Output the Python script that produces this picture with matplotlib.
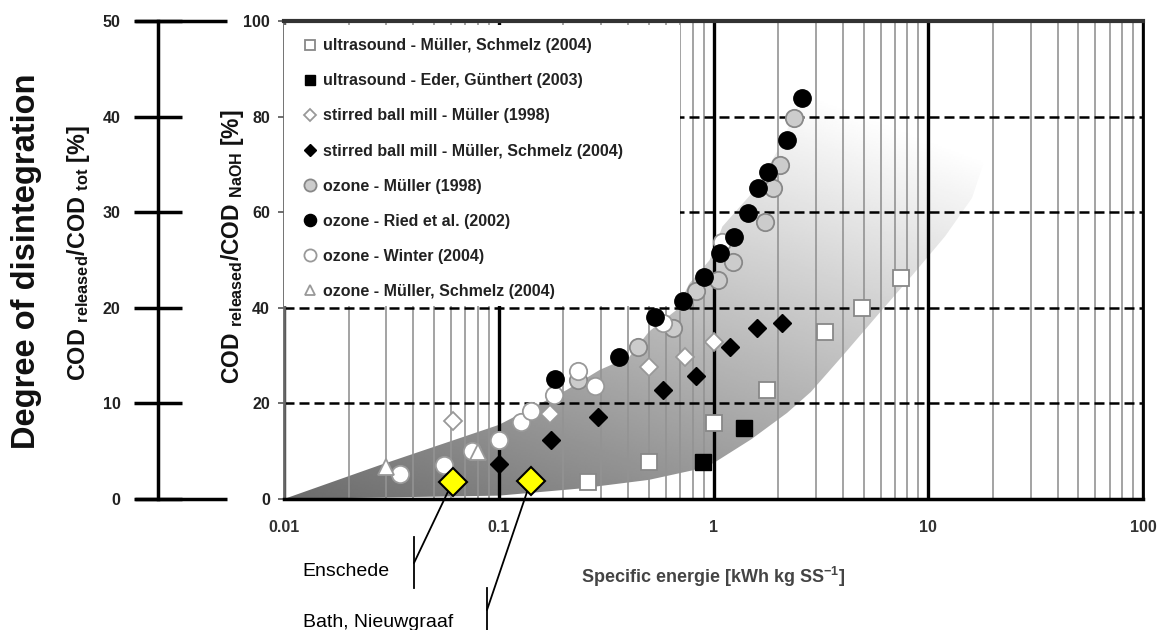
import numpy as np
import matplotlib
matplotlib.use("Agg")
import matplotlib.pyplot as plt
from matplotlib.patches import Polygon, Rectangle
from matplotlib.lines import Line2D
from matplotlib.ticker import FixedLocator, LogLocator, NullFormatter

plt.rcParams['font.family'] = ['Liberation Sans', 'DejaVu Sans']
plt.rcParams['font.weight'] = 'bold'
plt.rcParams['mathtext.fontset'] = 'custom'
plt.rcParams['mathtext.rm'] = 'Liberation Sans:bold'
plt.rcParams['mathtext.it'] = 'Liberation Sans:bold'
plt.rcParams['mathtext.bf'] = 'Liberation Sans:bold'

# specific energy [kWh/kg SS] vs. released COD [% of COD_NaOH]
us_ms_x = [0.26, 0.50, 1.0, 1.77, 3.3, 4.9, 7.5]
us_ms_y = [3.6, 7.7, 16.0, 22.8, 35.0, 40.0, 46.2]
us_eg_x = [0.89, 1.39]
us_eg_y = [7.7, 14.9]
sbm_m_x = [0.061, 0.173, 0.50, 0.74, 1.0]
sbm_m_y = [16.3, 17.8, 27.6, 29.7, 32.8]
sbm_ms_x = [0.10, 0.176, 0.29, 0.58, 0.83, 1.19, 1.60, 2.09]
sbm_ms_y = [7.3, 12.3, 17.2, 22.8, 25.7, 31.8, 35.8, 36.8]
oz_m_x = [0.235, 0.443, 0.645, 0.83, 1.055, 1.23, 1.73, 1.89, 2.03, 2.38]
oz_m_y = [24.9, 31.8, 35.8, 43.5, 45.8, 49.6, 57.9, 65.1, 69.9, 79.7]
oz_r_x = [0.182, 0.362, 0.532, 0.718, 0.90, 1.07, 1.25, 1.44, 1.62, 1.80, 2.19, 2.57]
oz_r_y = [25.1, 29.7, 38.1, 41.4, 46.4, 51.5, 54.8, 59.8, 65.1, 68.4, 75.1, 83.9]
oz_w_x = [0.0346, 0.0555, 0.0749, 0.10, 0.127, 0.142, 0.18, 0.233, 0.28, 0.58, 1.10]
oz_w_y = [5.2, 7.1, 10.0, 12.3, 16.1, 18.5, 21.8, 26.8, 23.6, 36.8, 53.8]
oz_ms_x = [0.030, 0.080]
oz_ms_y = [6.7, 9.8]

# full-scale plants
plant_names = ['Enschede', 'Bath, Nieuwgraaf']
plant_x = [0.061, 0.141]
plant_y = [3.6, 3.8]

# outline of the shaded band (counter-clockwise, starting at the tip)
band_x = [0.01, 0.1, 0.24, 0.5, 0.8, 1.0, 1.5, 2.2, 2.84, 4.0, 6.0, 8.5, 12, 16, 18, 16,
          11, 6, 3.5, 2.7, 2.4, 2.03, 1.58, 1.1, 0.96, 0.77, 0.67, 0.5, 0.405, 0.295,
          0.207, 0.1, 0.028]
band_y = [0, 0.7, 2.2, 4.0, 6.0, 7.5, 12.5, 18, 22.4, 30, 39.2, 47, 55, 63, 70, 77,
          83, 88, 91, 88, 81, 73.6, 65, 57, 50, 45, 39.5, 35, 29.7, 27, 22.8, 15.5, 7.1]

x_ticks = [0.01, 0.1, 1, 10, 100]
x_tick_labels = ['0.01', '0.1', '1', '10', '100']
y_ticks = [0, 20, 40, 60, 80, 100]
y_tot_ticks = [0, 10, 20, 30, 40, 50]

W, H = 1165, 630
fig = plt.figure(figsize=(W / 100, H / 100), dpi=100)


def fpx(x, y):
    # pixel position (from top-left) -> figure fraction
    return x / W, 1 - y / H


x0, y0 = fpx(284, 499)
x1, y1 = fpx(1143, 21)
ax = fig.add_axes([x0, y0, x1 - x0, y1 - y0])
ax.set_xscale('log')
ax.set_xlim(0.01, 100)
ax.set_ylim(0, 100)

# grey gradient band
gx, gy = np.meshgrid(np.linspace(0, 1, 400), np.linspace(0, 1, 300))
shade = np.clip(0.42 + 0.31 * gx + 0.46 * gy, 0, 1)
im = ax.imshow(shade, cmap='gray', vmin=0, vmax=1, origin='lower', extent=[0, 1, 0, 1],
               transform=ax.transAxes, aspect='auto', interpolation='bilinear', zorder=0)
band = Polygon(np.column_stack([band_x, band_y]), closed=True, transform=ax.transData,
               facecolor='none', edgecolor='none')
ax.add_patch(band)
im.set_clip_path(band)
ax.set_xlim(0.01, 100)
ax.set_ylim(0, 100)

# grid: thin minor lines per decade, heavy decade lines, dashed horizontals
ax.xaxis.set_major_locator(FixedLocator(x_ticks))
ax.set_xticklabels(x_tick_labels)
ax.xaxis.set_minor_locator(LogLocator(base=10, subs=np.arange(2, 10)))
ax.xaxis.set_minor_formatter(NullFormatter())
ax.set_yticks(y_ticks)
ax.set_axisbelow(True)
ax.xaxis.grid(True, which='minor', color='#939393', lw=1.2)
ax.xaxis.grid(True, which='major', color='black', lw=2.4)
ax.yaxis.grid(True, which='major', color='black', lw=1.8, linestyle=(0, (4, 2)))

ax.tick_params(axis='x', which='both', length=0, pad=15, labelsize=11.5, labelcolor='#333333')
ax.tick_params(axis='y', length=4, width=1.2, color='#555555', pad=6, labelsize=11.5,
               labelcolor='#222222')
ax.spines['left'].set_color('#666666')
ax.spines['left'].set_linewidth(2)
ax.spines['top'].set_color('#333333')
ax.spines['top'].set_linewidth(3)
ax.spines['right'].set_linewidth(2)
ax.spines['bottom'].set_linewidth(2.5)

ax.set_xlabel('Specific energie [kWh kg SS$^{-1}$]', fontsize=13, fontweight='bold',
              color='#444444')
ax.xaxis.set_label_coords(0.5, -0.138)

# white box behind the legend
ax.add_patch(Rectangle((0, 0.404), 0.461, 0.588, transform=ax.transAxes,
                       facecolor='white', edgecolor='none', zorder=3))

ms = dict(linestyle='none', zorder=4)
ax.plot(us_ms_x, us_ms_y, marker='s', ms=11, mfc='white', mec='#888888', mew=1.3,
        label='ultrasound - Müller, Schmelz (2004)', **ms)
ax.plot(us_eg_x, us_eg_y, marker='s', ms=11, mfc='black', mec='black',
        label='ultrasound - Eder, Günthert (2003)', **ms)
ax.plot(sbm_m_x, sbm_m_y, marker='D', ms=9, mfc='white', mec='#999999', mew=1.3,
        label='stirred ball mill - Müller (1998)', **ms)
ax.plot(sbm_ms_x, sbm_ms_y, marker='D', ms=9, mfc='black', mec='black',
        label='stirred ball mill - Müller, Schmelz (2004)', **ms)
ax.plot(oz_m_x, oz_m_y, marker='o', ms=12.5, mfc='#cccccc', mec='#888888', mew=1.3,
        label='ozone - Müller (1998)', **ms)
ax.plot(oz_r_x, oz_r_y, marker='o', ms=12.5, mfc='black', mec='black',
        label='ozone - Ried et al. (2002)', linestyle='none', zorder=4.5)
ax.plot(oz_w_x, oz_w_y, marker='o', ms=12.5, mfc='white', mec='#999999', mew=1.3,
        label='ozone - Winter (2004)', **ms)
ax.plot(oz_ms_x, oz_ms_y, marker='^', ms=11, mfc='white', mec='#999999', mew=1.3,
        label='ozone - Müller, Schmelz (2004)', linestyle='none', zorder=4.6)

ax.plot(plant_x, plant_y, marker='D', ms=14, mfc='#ffff00', mec='black', mew=1.5,
        linestyle='none', zorder=6)

leg = ax.legend(loc='upper left', bbox_to_anchor=(0.022, 0.964), frameon=False,
                fontsize=11.5, markerscale=0.7, handlelength=0.9, handletextpad=0.35,
                labelspacing=1.26, borderpad=0, borderaxespad=0)
leg.set_zorder(7)
for t in leg.get_texts():
    t.set_color('#222222')

# plant labels below the axis
label_pos = [(414, 563, 537, 588, 302, 576), (487, 610, 588, 630, 303, 627)]
for name, px, py, (lx, ly, t0, t1, tx, ty) in zip(plant_names, plant_x, plant_y, label_pos):
    ax.annotate('', xy=(px, py), xycoords='data', xytext=fpx(lx, ly),
                textcoords='figure fraction', annotation_clip=False, zorder=5,
                arrowprops=dict(arrowstyle='-', color='black', lw=1.3, shrinkA=0, shrinkB=0))
    fig.add_artist(Line2D([lx / W, lx / W], [1 - t0 / H, 1 - t1 / H],
                          transform=fig.transFigure, color='black', lw=1.3))
    fig.text(*fpx(tx, ty), name, fontsize=14, fontweight='normal', ha='left', va='baseline')

# secondary scale: COD released / COD tot
lx0, _ = fpx(158, 0)
axl = fig.add_axes([lx0, y0, x0 - lx0, y1 - y0])
axl.set_ylim(0, 50)
axl.set_xlim(0, 1)
axl.patch.set_visible(False)
for s in ['right', 'top', 'bottom']:
    axl.spines[s].set_visible(False)
axl.spines['left'].set_linewidth(2.5)
axl.set_xticks([])
axl.set_yticks(y_tot_ticks)
axl.tick_params(axis='y', direction='inout', length=34, width=2.5, pad=10,
                labelsize=11.5, labelcolor='#222222')
for v in [0, 50]:
    axl.plot([-0.183, 0.548], [v, v], transform=axl.get_yaxis_transform(),
             color='black', lw=2.5, clip_on=False, solid_capstyle='butt')

fig.text(*fpx(27, 261), 'Degree of disintegration', fontsize=23.5, rotation=90,
         ha='center', va='center', color='#111111')
fig.text(*fpx(78, 253), 'COD $_{\\rm released}$/COD $_{\\rm tot}$ [%]', fontsize=16.8,
         rotation=90, ha='center', va='center', color='#111111')
fig.text(*fpx(233, 247), 'COD $_{\\rm released}$/COD $_{\\rm NaOH}$ [%]', fontsize=16.5,
         rotation=90, ha='center', va='center', color='#111111')

fig.savefig('out.png', dpi=100)
